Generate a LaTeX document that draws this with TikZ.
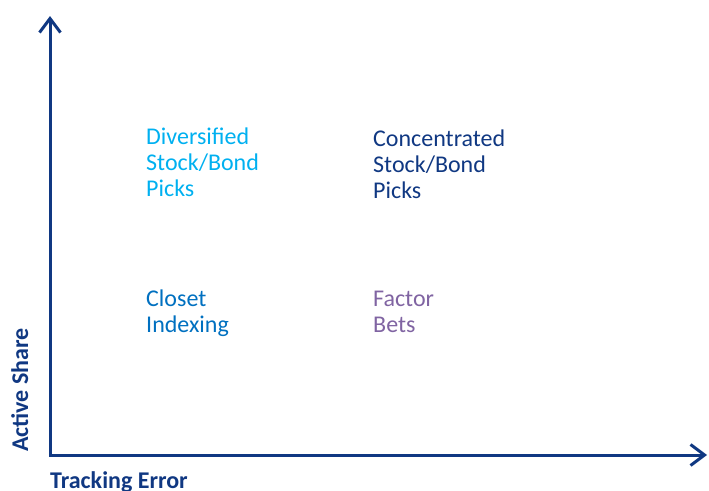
\documentclass[tikz,border=0pt]{standalone}
\usepackage{fontspec}
\setmainfont{Carlito}
\usetikzlibrary{arrows.meta,positioning}
\definecolor{navy}{RGB}{16,56,130}
\definecolor{lightblue}{RGB}{0,176,240}
\definecolor{midblue}{RGB}{0,112,192}
\definecolor{violet}{RGB}{128,100,162}
\begin{document}
\begin{tikzpicture}
[x=1pt,y=-1pt,>={Straight Barb[length=14pt,width=21pt]},
 every node/.style={inner sep=0pt,align=left,font=\fontsize{24}{26}\selectfont}]
\useasboundingbox (0,0) rectangle (709,490);
% axes
\coordinate (O) at (50,455);
\coordinate (Ytop) at (50,16);
\coordinate (Xend) at (707,455);
\draw [<->, navy, line width=3pt, line join=miter] (Ytop) -- (O) -- (Xend);

% axis labels
\node [font=\bfseries\fontsize{24}{26}\selectfont, navy, rotate=90, anchor=base west] (ylab) at (28,452) {Active Share};
\node [font=\bfseries\fontsize{24}{26}\selectfont, navy, anchor=base west] (xlab) at (50,488) {Tracking Error};

% quadrants
\node [lightblue, anchor=base west] (div) at (146,196) {Diversified\\Stock/Bond\\Picks};
\node [navy, anchor=base west] (conc) at (373,198) {Concentrated\\Stock/Bond\\Picks};
\node [midblue, anchor=base west] (closet) at (146,332) {Closet\\Indexing};
\node [violet, anchor=base west] (factor) at (373,332) {Factor\\Bets};

\end{tikzpicture}
\end{document}
